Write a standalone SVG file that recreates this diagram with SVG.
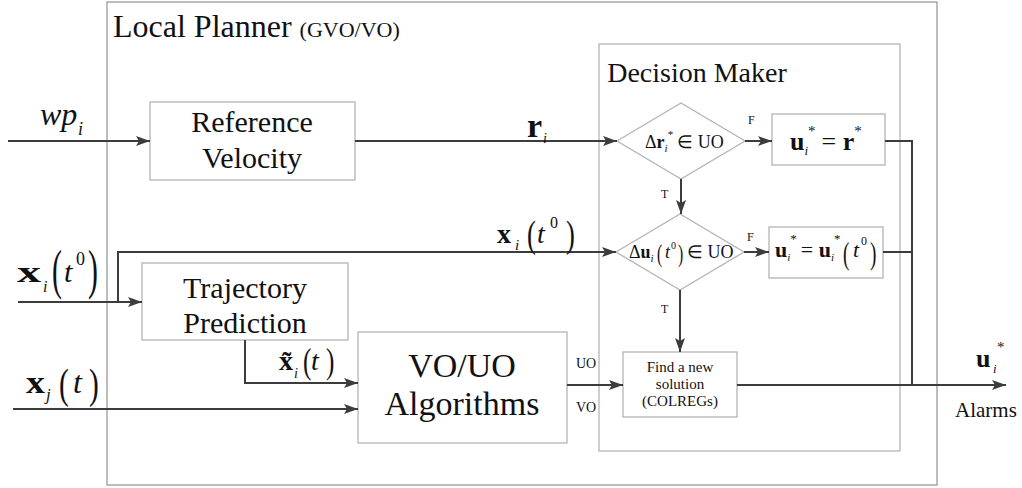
<svg xmlns="http://www.w3.org/2000/svg" width="1022" height="488" viewBox="0 0 1022 488">
<style>
.box{fill:#fff;stroke:#b4b4b4;stroke-width:1.3}
.outer{fill:#fff;stroke:#9a9a9a;stroke-width:1.3}
.c{fill:none;stroke:#3c3c3c;stroke-width:2}
text{font-family:"Liberation Serif","Times New Roman",serif;fill:#111}
.t{font-size:30px;text-anchor:middle}
.b{font-weight:bold}
.it{font-style:italic}
.sm{font-size:15px;text-anchor:middle}
.lab{font-size:12px}
</style>
<defs>
<marker id="ah" viewBox="0 0 14 10" refX="14" refY="5" markerWidth="14" markerHeight="10" markerUnits="userSpaceOnUse" orient="auto">
<path d="M0,0 L14,5 L0,10 L3,5 Z" fill="#3c3c3c"/>
</marker>
</defs>
<g id="local-planner">
<rect class="outer" x="107" y="2" width="830" height="483"/>
<text x="113" y="37" font-size="32">Local Planner <tspan font-size="22">(GVO/VO)</tspan></text>
</g>
<g id="decision-maker">
<rect class="box" x="599" y="44" width="301" height="407"/>
<text x="697" y="82" font-size="28" text-anchor="middle">Decision Maker</text>
</g>
<g id="reference-velocity">
<rect class="box" x="150" y="102" width="205" height="78"/>
<text class="t" x="252" y="132">Reference</text>
<text class="t" x="252" y="168">Velocity</text>
</g>
<g id="trajectory-prediction">
<rect class="box" x="142" y="263" width="206" height="77"/>
<text class="t" x="245" y="298">Trajectory</text>
<text class="t" x="245" y="333">Prediction</text>
</g>
<g id="vo-uo">
<rect class="box" x="358" y="332" width="209" height="111"/>
<text x="462" y="377" font-size="34" text-anchor="middle">VO/UO</text>
<text x="462" y="415" font-size="34" text-anchor="middle">Algorithms</text>
</g>
<g id="d1">
<polygon class="box" points="617,141 681,103 745,141 681,179"/>
<text x="645" y="148" font-size="18">Δ<tspan class="b">r</tspan><tspan class="it" font-size="11" dy="4">i</tspan><tspan font-size="11" dy="-14">*</tspan><tspan dy="10" dx="4">∈ UO</tspan></text>
</g>
<g id="d2">
<polygon class="box" points="616,252 680,214 744,252 680,290"/>
<text x="629" y="258" font-size="18">Δ<tspan class="b">u</tspan><tspan class="it" font-size="11" dy="4">i</tspan></text>
<text x="657" y="262" font-size="26" transform="translate(657,0) scale(0.6,1) translate(-657,0)">(</text>
<text x="665" y="258" font-size="18" class="it">t</text>
<text x="671" y="249" font-size="10">0</text>
<text x="678" y="262" font-size="26" transform="translate(678,0) scale(0.6,1) translate(-678,0)">)</text>
<text x="687" y="258" font-size="18">∈ UO</text>
</g>
<g id="out1">
<rect class="box" x="772" y="114" width="113" height="51"/>
<text x="790" y="150" font-size="26"><tspan class="b">u</tspan><tspan class="it" font-size="13" dy="5">i</tspan><tspan font-size="15" dy="-19">*</tspan><tspan dy="14" dx="6">= </tspan><tspan class="b">r</tspan><tspan font-size="15" dy="-14">*</tspan></text>
</g>
<g id="out2">
<rect class="box" x="769" y="227" width="114" height="51"/>
<text x="775" y="257" font-size="22"><tspan class="b">u</tspan><tspan class="it" font-size="11" dy="4">i</tspan><tspan font-size="13" dy="-18">*</tspan><tspan dy="14" dx="4">= </tspan><tspan class="b">u</tspan><tspan class="it" font-size="11" dy="4">i</tspan><tspan font-size="13" dy="-18">*</tspan></text>
<text x="843" y="264" font-size="32" transform="translate(843,0) scale(0.6,1) translate(-843,0)">(</text>
<text x="853" y="257" font-size="22" class="it">t</text>
<text x="861" y="245" font-size="12">0</text>
<text x="870" y="264" font-size="32" transform="translate(870,0) scale(0.6,1) translate(-870,0)">)</text>
</g>
<g id="find">
<rect class="box" x="623" y="352" width="114" height="65"/>
<text class="sm" x="680" y="372">Find a new</text>
<text class="sm" x="680" y="389">solution</text>
<text class="sm" x="680" y="406">(COLREGs)</text>
</g>
<g id="connectors">
<path class="c" d="M8,141 H150" marker-end="url(#ah)"/>
<path class="c" d="M355,141 H617" marker-end="url(#ah)"/>
<path class="c" d="M681,179 V214" marker-end="url(#ah)"/>
<path class="c" d="M745,141 H772" marker-end="url(#ah)"/>
<path class="c" d="M744,252 H769" marker-end="url(#ah)"/>
<path class="c" d="M680,290 V352" marker-end="url(#ah)"/>
<path class="c" d="M118,302 V252 H616" marker-end="url(#ah)"/>
<path class="c" d="M18,302 H142" marker-end="url(#ah)"/>
<path class="c" d="M245,340 V383 H358" marker-end="url(#ah)"/>
<path class="c" d="M13,409 H358" marker-end="url(#ah)"/>
<path class="c" d="M567,385 H623" marker-end="url(#ah)"/>
<path class="c" d="M737,385 H1006" marker-end="url(#ah)"/>
<path class="c" d="M885,141 H912 V385 M883,252 H912"/>
</g>
<g id="labels">
<text x="40" y="125" font-size="32" class="it">wp</text>
<text x="78" y="135" font-size="18" class="it">i</text>

<text x="17" y="282" font-size="30" class="b" textLength="24" lengthAdjust="spacingAndGlyphs">x</text>
<text x="43" y="292" font-size="16" class="it">i</text>
<text x="52" y="288" font-size="54" transform="translate(52,0) scale(0.55,1) translate(-52,0)">(</text>
<text x="64" y="282" font-size="30" class="it">t</text>
<text x="76" y="265" font-size="18">0</text>
<text x="88" y="288" font-size="54" transform="translate(88,0) scale(0.55,1) translate(-88,0)">)</text>

<text x="527" y="137" font-size="34" class="b">r</text>
<text x="543" y="143" font-size="14" class="it">i</text>

<text x="497" y="243" font-size="28" class="b">x</text>
<text x="515" y="250" font-size="15" class="it">i</text>
<text x="527" y="247" font-size="38" transform="translate(527,0) scale(0.7,1) translate(-527,0)">(</text>
<text x="537" y="243" font-size="28" class="it">t</text>
<text x="550" y="228" font-size="16">0</text>
<text x="566" y="247" font-size="38" transform="translate(566,0) scale(0.7,1) translate(-566,0)">)</text>

<text x="279" y="370" font-size="28" class="b">x̃</text>
<text x="294" y="378" font-size="14" class="it">i</text>
<text x="303" y="373" font-size="36" transform="translate(303,0) scale(0.7,1) translate(-303,0)">(</text>
<text x="311" y="370" font-size="28" class="it">t</text>
<text x="326" y="373" font-size="36" transform="translate(326,0) scale(0.7,1) translate(-326,0)">)</text>

<text x="26" y="393" font-size="32" class="b" textLength="19" lengthAdjust="spacingAndGlyphs">x</text>
<text x="46" y="400" font-size="17" class="it">j</text>
<text x="59" y="398" font-size="42" transform="translate(59,0) scale(0.7,1) translate(-59,0)">(</text>
<text x="73" y="393" font-size="32" class="it">t</text>
<text x="89" y="398" font-size="42" transform="translate(89,0) scale(0.7,1) translate(-89,0)">)</text>

<text class="lab" x="748" y="124">F</text>
<text class="lab" x="747" y="241">F</text>
<text class="lab" x="661" y="198">T</text>
<text class="lab" x="661" y="313">T</text>
<text x="576" y="368" font-size="14">UO</text>
<text x="576" y="412" font-size="14">VO</text>

<text x="976" y="367" font-size="26" class="b">u</text>
<text x="993" y="373" font-size="13" class="it">i</text>
<text x="997" y="352" font-size="15">*</text>
<text x="955" y="417" font-size="21">Alarms</text>
</g>
</svg>
